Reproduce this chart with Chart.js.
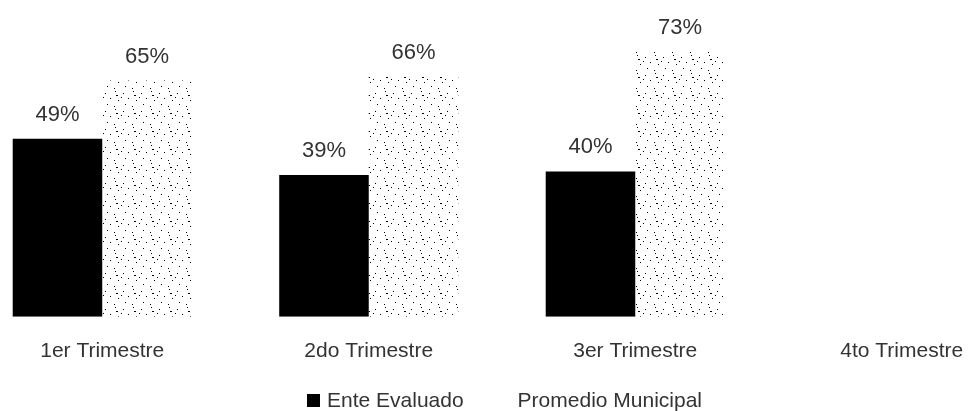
<!DOCTYPE html>
<html lang="es">
<head>
    <meta charset="UTF-8">
    <title>Ente Evaluado vs Promedio Municipal</title>
    <script src="https://cdn.jsdelivr.net/npm/chart.js"></script>
    <style>
        body {
            margin: 0;
            background: #fff;
            overflow: hidden;
            font-family: 'Liberation Sans', Arial, sans-serif;
        }
        .wrap {
            position: relative;
            width: 969px;
            height: 411px;
            overflow: hidden;
        }
        #chart {
            position: absolute;
            left: -31px;
            top: 0;
        }
        .legend {
            position: absolute;
            top: 388px;
            left: 307px;
            display: flex;
            align-items: center;
            font-size: 21px;
            color: #333;
            white-space: nowrap;
        }
        .legend .box {
            display: inline-block;
            width: 13px;
            height: 13px;
            margin-right: 7px;
        }
        .legend .item + .item {
            margin-left: 34px;
        }
    </style>
</head>
<body>
    <div class="wrap">
        <canvas id="chart" width="1066" height="411"></canvas>
        <div class="legend" id="legend"></div>
    </div>

    <script>
        const quarters = ['1er Trimestre', '2do Trimestre', '3er Trimestre', '4to Trimestre'];
        const enteEvaluado = [49, 39, 40, null];
        const promedioMunicipal = [65, 66, 73, null];

        // sparse dot pattern for the municipal average bars
        function dotPattern() {
            const c = document.createElement('canvas');
            c.width = 18;
            c.height = 18;
            const g = c.getContext('2d');
            g.fillStyle = '#fff';
            g.fillRect(0, 0, 18, 18);
            g.fillStyle = '#000';
            [[2, 1], [10, 3], [15, 8], [5, 10], [12, 14], [1, 16], [8, 7]].forEach(p => g.fillRect(p[0], p[1], 1, 1));
            g.fillRect(3, 5, 2, 1);
            return g.createPattern(c, 'repeat');
        }

        const valueLabels = {
            id: 'valueLabels',
            afterDatasetsDraw(chart) {
                const ctx = chart.ctx;
                ctx.save();
                ctx.font = '22px "Liberation Sans", Arial, sans-serif';
                ctx.fillStyle = '#333';
                ctx.textAlign = 'center';
                ctx.textBaseline = 'middle';
                chart.data.datasets.forEach((ds, i) => {
                    chart.getDatasetMeta(i).data.forEach((bar, j) => {
                        const v = ds.data[j];
                        if (v == null) return;
                        ctx.fillText(v + '%', bar.x, bar.y - 24);
                    });
                });
                ctx.restore();
            }
        };

        const pattern = dotPattern();
        const chart = new Chart(document.getElementById('chart'), {
            type: 'bar',
            data: {
                labels: quarters,
                datasets: [
                    { label: 'Ente Evaluado', data: enteEvaluado, backgroundColor: '#000' },
                    { label: 'Promedio Municipal', data: promedioMunicipal, backgroundColor: pattern }
                ]
            },
            options: {
                responsive: false,
                animation: false,
                events: [],
                layout: { padding: { top: 26, bottom: 25, left: 0, right: 0 } },
                categoryPercentage: 0.672,
                barPercentage: 1,
                plugins: {
                    legend: { display: false },
                    tooltip: { enabled: false }
                },
                scales: {
                    x: {
                        grid: { display: false, drawTicks: false },
                        border: { display: false },
                        ticks: {
                            padding: 22,
                            color: '#333',
                            font: { family: '"Liberation Sans", Arial, sans-serif', size: 21 }
                        }
                    },
                    y: {
                        display: false,
                        min: 0,
                        max: 80
                    }
                }
            },
            plugins: [valueLabels]
        });

        // legend
        const legend = document.getElementById('legend');
        chart.data.datasets.forEach((ds, i) => {
            const item = document.createElement('span');
            item.className = 'item';
            const box = document.createElement('span');
            box.className = 'box';
            box.style.background = i === 0 ? '#000' : '#fff';
            item.appendChild(box);
            item.appendChild(document.createTextNode(ds.label));
            legend.appendChild(item);
        });
    </script>
</body>
</html>
